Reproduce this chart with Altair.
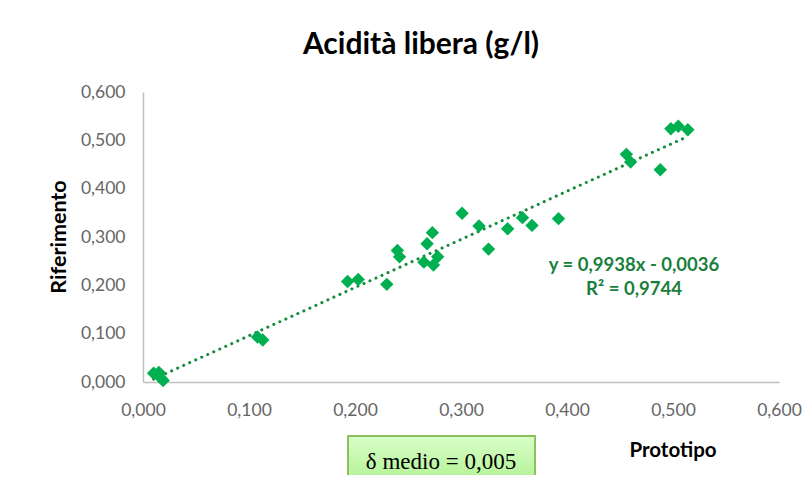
import altair as alt
import pandas as pd

# Data
prototipo = [0.010, 0.015, 0.017, 0.019, 0.108, 0.113, 0.193, 0.203, 0.230,
             0.240, 0.242, 0.265, 0.268, 0.273, 0.274, 0.278, 0.301, 0.317,
             0.326, 0.344, 0.358, 0.367, 0.392, 0.456, 0.460, 0.488, 0.498,
             0.505, 0.514]
riferimento = [0.018, 0.020, 0.008, 0.003, 0.093, 0.087, 0.208, 0.212, 0.202,
               0.272, 0.259, 0.248, 0.286, 0.309, 0.242, 0.259, 0.349, 0.323,
               0.275, 0.317, 0.340, 0.324, 0.338, 0.471, 0.455, 0.439, 0.524,
               0.529, 0.522]
x_ticks = [0.0, 0.1, 0.2, 0.3, 0.4, 0.5, 0.6]
y_ticks = [0.0, 0.1, 0.2, 0.3, 0.4, 0.5, 0.6]

title_text = "Acidità libera (g/l)"
eq_lines = ["y = 0,9938x - 0,0036", "R² = 0,9744"]
box_text = "δ medio = 0,005"

df = pd.DataFrame({"Prototipo": prototipo, "Riferimento": riferimento})

W, H = 636, 290
FONT = "Lato"
comma = "replace(format(datum.value, '.3f'), '.', ',')"

xs = alt.Scale(domain=[0, 0.6], nice=False, zero=False)
ys = alt.Scale(domain=[0, 0.6], nice=False, zero=False)

base = alt.Chart(df)

points = base.mark_point(shape="diamond", filled=True, size=180, opacity=1,
                         color="#00b050").encode(
    x=alt.X("Prototipo:Q", scale=xs,
            axis=alt.Axis(values=x_ticks, labelExpr=comma, title=None, grid=False,
                          ticks=False, domainColor="#bfbfbf", domainWidth=1.5,
                          labelColor="#666666", labelFont=FONT, labelFontSize=17.5,
                          labelPadding=19, labelFlush=False, labelOverlap=False)),
    y=alt.Y("Riferimento:Q", scale=ys,
            axis=alt.Axis(values=y_ticks, labelExpr=comma, title=None, grid=False,
                          ticks=False, domainColor="#bfbfbf", domainWidth=1.5,
                          labelColor="#666666", labelFont=FONT, labelFontSize=17.5,
                          labelPadding=18, labelFlush=False, labelOverlap=False)),
)

trend = base.transform_regression("Prototipo", "Riferimento", method="linear").mark_line(
    color="#138a3c", strokeWidth=3, strokeDash=[0.1, 6.5], strokeCap="round"
).encode(x=alt.X("Prototipo:Q", scale=xs), y=alt.Y("Riferimento:Q", scale=ys))

title = alt.Chart(pd.DataFrame({"t": [title_text]})).mark_text(
    font=FONT, fontSize=30, fontWeight="bold", color="#000000", align="center", baseline="middle"
).encode(text="t:N", x=alt.value(421 - 143), y=alt.value(45 - 92))

eq = alt.Chart(pd.DataFrame({"t": eq_lines, "dy": [265 - 92, 289 - 92]})).mark_text(
    font=FONT, fontSize=18.5, fontWeight="bold", color="#1a7f3c", align="center", baseline="middle"
).encode(text="t:N", x=alt.value(634 - 143), y=alt.Y("dy:Q", scale=None, axis=None))

ytitle = alt.Chart(pd.DataFrame({"t": ["Riferimento"]})).mark_text(
    font=FONT, fontSize=21.5, fontWeight="bold", color="#000000", angle=270,
    align="center", baseline="middle"
).encode(text="t:N", x=alt.value(60 - 143), y=alt.value(237 - 92))

xtitle = alt.Chart(pd.DataFrame({"t": ["Prototipo"]})).mark_text(
    font=FONT, fontSize=20.5, fontWeight="bold", color="#000000",
    align="center", baseline="middle"
).encode(text="t:N", x=alt.value(673 - 143), y=alt.value(451 - 92))

box = alt.Chart(pd.DataFrame({"a": [1]})).mark_rect(
    fill=alt.Gradient(gradient="linear", x1=0, y1=0, x2=0, y2=1,
                      stops=[alt.GradientStop(color="#d8ffc8", offset=0),
                             alt.GradientStop(color="#aef08e", offset=1)]),
    stroke="#8fc060", strokeWidth=2
).encode(x=alt.value(348 - 143), x2=alt.value(535 - 143),
         y=alt.value(436 - 92), y2=alt.value(488 - 92))

box_label = alt.Chart(pd.DataFrame({"t": [box_text]})).mark_text(
    font="Liberation Serif", fontSize=23, color="#000000", align="center", baseline="middle"
).encode(text="t:N", x=alt.value(441 - 143), y=alt.value(462 - 92))

chart = alt.layer(trend, points, title, eq, ytitle, xtitle, box, box_label).properties(
    width=W, height=H,
    autosize=alt.AutoSizeParams(type="none"),
    padding={"left": 135, "top": 84, "right": 25, "bottom": 93},
    background="white",
).configure_view(stroke=None)

chart.save("out.html", embed_options={"renderer": "svg", "actions": False})
